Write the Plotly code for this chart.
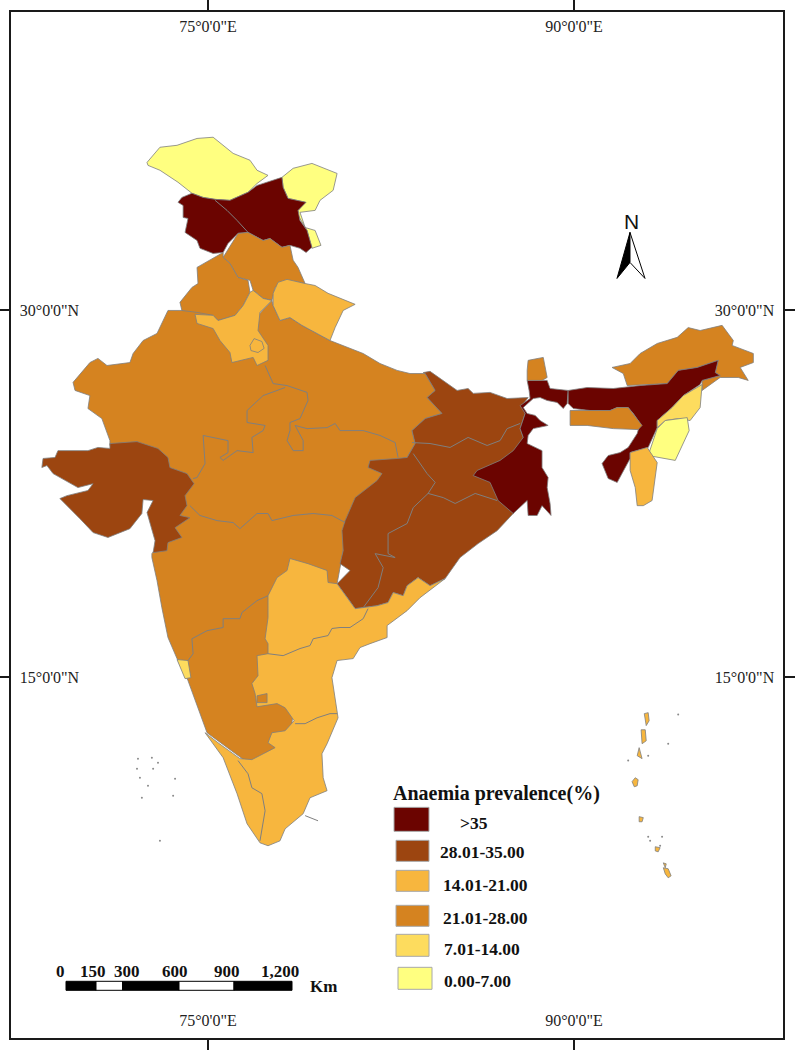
import plotly.graph_objects as go

# ---- legend classes ----
CLASS_LABELS = [">35", "28.01-35.00", "14.01-21.00", "21.01-28.00", "7.01-14.00", "0.00-7.00"]
CLASS_COLOURS = ["#6B0400", "#9C4510", "#F7B63E", "#D58320", "#FDDC5E", "#FFFF80"]
LEGEND_TITLE = "Anaemia prevalence(%)"

# ---- graticule ----
LON_TICKS = [75, 90]
LON_TEXT = ["75°0'0\"E", "90°0'0\"E"]
LAT_TICKS = [15, 30]
LAT_TEXT = ["15°0'0\"N", "30°0'0\"N"]
SCALE_KM = ["0", "150", "300", "600", "900", "1,200"]

# ---- region outlines, (lon, lat) ----
NORTH_WEST = [(72.50,36.05),(73.03,36.67),(73.73,36.75),(74.55,37.03),(75.21,37.08),(76.03,36.42),(76.72,36.14),(77.01,35.73),(77.46,35.52),(77.01,35.19),(76.64,34.83),(75.90,34.50),(75.29,34.54),(74.80,34.62),(74.34,34.79),(73.77,35.24),(73.03,35.73),(72.54,35.93)]
NORTH_EAST = [(78.03,35.44),(78.49,35.81),(79.26,36.01),(80.29,35.60),(80.13,34.91),(79.59,34.50),(79.39,34.09),(78.77,34.01),(78.98,33.39),(79.39,33.27),(79.63,32.66),(79.26,32.54),(79.06,33.27),(78.69,33.89),(78.69,34.09),(78.98,34.42),(78.28,34.58),(78.08,35.03)]
KASHMIR = [(78.03,35.44),(78.08,35.03),(78.28,34.58),(79.02,34.42),(78.69,34.09),(78.77,33.68),(79.06,33.27),(79.26,32.58),(79.02,32.37),(78.77,32.54),(78.36,32.66),(78.03,32.58),(77.54,32.94),(77.26,32.86),(76.64,33.19),(76.23,33.15),(75.82,32.74),(75.62,32.37),(75.21,32.33),(74.67,32.54),(74.55,32.86),(74.06,33.19),(74.18,33.76),(73.98,33.80),(73.98,34.29),(73.77,34.42),(73.93,34.62),(74.34,34.79),(74.80,34.62),(75.29,34.54),(75.90,34.50),(76.64,34.83),(77.01,35.11)]
HIMACHAL = [(76.64,33.19),(76.23,33.15),(75.62,32.17),(75.90,31.92),(76.23,31.35),(76.72,31.23),(76.85,30.82),(77.26,30.49),(77.62,30.41),(77.75,30.94),(78.24,31.23),(78.98,31.10),(78.69,31.76),(78.49,32.05),(78.36,32.66),(78.03,32.58),(77.54,32.94),(77.26,32.86)]
PUNJAB = [(75.62,32.37),(75.21,32.13),(74.55,31.76),(74.59,31.10),(74.34,30.94),(73.85,30.33),(73.93,30.00),(74.55,29.92),(75.21,29.80),(75.41,29.59),(76.11,29.80),(76.44,30.20),(76.72,30.74),(76.64,31.23),(76.23,31.35),(75.90,31.92),(75.62,32.17)]
UTTARAKHAND = [(77.87,31.15),(78.24,31.27),(78.98,31.10),(79.39,31.02),(79.92,30.70),(81.03,30.25),(80.54,30.00),(80.21,29.30),(80.00,28.77),(79.47,29.06),(78.85,29.39),(78.36,29.71),(77.95,29.59),(77.67,30.20),(77.67,30.70)]
HARYANA = [(76.85,30.82),(77.26,30.49),(77.62,30.41),(77.13,29.92),(77.05,29.18),(77.46,28.57),(77.46,27.96),(77.01,27.75),(76.85,28.08),(75.98,27.87),(75.90,28.28),(75.49,28.77),(75.21,29.26),(74.55,29.47),(74.47,29.84),(75.21,29.80),(75.41,29.59),(76.11,29.80),(76.44,30.20),(76.72,30.74)]
DELHI = [(76.72,28.57),(76.89,28.85),(77.21,28.73),(77.30,28.45),(77.05,28.28),(76.76,28.36)]
CENTRAL_WEST = [(73.36,30.00),(73.85,30.00),(77.13,29.88),(77.62,30.41),(77.67,30.20),(77.95,29.59),(78.36,29.71),(78.85,29.39),(80.00,28.77),(81.36,28.24),(82.05,27.83),(82.75,27.55),(83.28,27.42),(83.90,27.42),(84.31,26.73),(83.98,26.44),(84.59,25.79),(83.90,25.58),(83.36,25.09),(83.49,24.56),(83.16,23.99),(82.75,23.91),(80.62,21.33),(80.54,20.18),(80.29,18.83),(78.77,16.09),(78.36,12.41),(76.80,11.39),(74.96,12.74),(74.67,13.52),(74.18,14.87),(73.73,15.77),(73.36,16.63),(73.11,17.85),(72.91,18.96),(72.70,19.90),(72.70,20.06),(73.44,21.00),(74.06,23.05),(72.62,24.27),(70.98,24.48),(70.98,24.68),(70.65,25.58),(70.08,25.99),(70.16,26.52),(69.55,26.73),(69.47,27.06),(70.16,27.87),(70.49,28.04),(70.86,27.75),(71.80,27.87),(71.93,28.24),(72.34,28.77),(72.91,29.06)]
EAST_CENTRAL = [(82.75,23.95),(81.64,23.87),(81.56,23.58),(82.13,23.33),(81.93,23.05),(81.03,22.35),(80.62,21.41),(80.49,21.00),(80.54,20.18),(80.41,19.65),(80.82,19.37),(80.29,18.83),(80.74,18.22),(81.03,17.81),(81.93,17.93),(82.38,18.06),(82.59,18.47),(83.00,18.34),(83.16,18.75),(83.61,19.08),(84.10,18.75),(84.72,19.04),(85.33,19.90),(86.07,20.47),(86.85,21.00),(87.51,21.70),(87.38,23.05),(87.92,24.81),(87.79,25.17),(88.00,25.79),(87.87,26.11),(88.12,26.44),(87.26,26.40),(86.56,26.65),(85.87,26.61),(85.66,26.81),(85.21,26.73),(84.64,27.14),(84.10,27.51),(83.82,27.46),(83.90,27.42),(84.31,26.73),(83.98,26.44),(84.59,25.79),(83.90,25.58),(83.36,25.09),(83.49,24.56),(83.16,23.99)]
WEST_BENGAL = [(88.08,27.14),(88.90,27.14),(89.02,26.81),(89.76,26.73),(89.72,26.20),(89.56,25.99),(89.31,26.24),(88.90,26.32),(88.61,26.44),(88.33,26.40),(87.92,26.03),(88.08,25.79),(88.41,25.71),(88.61,25.50),(88.94,25.30),(88.33,25.17),(88.12,24.89),(88.08,24.56),(88.69,24.27),(88.69,23.58),(88.94,23.17),(88.90,22.76),(89.02,22.11),(89.06,21.62),(88.69,22.02),(88.49,21.62),(88.12,21.62),(88.08,22.23),(87.51,21.70),(86.89,22.23),(86.56,22.97),(85.87,23.25),(86.03,23.46),(86.97,23.87),(87.51,24.27),(87.92,24.81),(87.79,25.17),(88.00,25.79),(87.79,26.11),(88.20,26.40),(88.16,26.73)]
SIKKIM = [(88.12,27.96),(88.74,28.08),(88.90,27.26),(88.69,27.14),(88.08,27.14),(88.08,27.55)]
ASSAM = [(89.76,26.73),(90.54,26.85),(91.61,26.81),(92.71,26.93),(93.82,27.01),(94.27,27.55),(95.05,27.67),(95.91,27.96),(95.79,27.46),(95.99,27.34),(95.25,27.14),(95.17,26.97),(94.48,26.52),(94.02,26.03),(93.41,25.50),(93.41,25.21),(93.04,24.40),(92.30,24.19),(92.30,23.95),(92.02,23.46),(91.77,22.97),(91.40,23.13),(91.15,23.74),(91.40,24.07),(91.89,24.19),(92.22,24.40),(92.59,24.97),(92.71,25.38),(92.43,25.79),(92.22,26.03),(91.77,26.03),(91.48,25.91),(90.66,25.91),(89.97,25.99),(89.76,26.20)]
ARUNACHAL = [(91.56,27.67),(92.30,27.83),(92.71,28.24),(93.41,28.65),(94.23,28.90),(94.68,29.30),(95.17,29.18),(96.07,29.39),(96.53,28.77),(96.48,28.57),(97.35,28.24),(97.35,27.87),(96.81,27.67),(97.14,27.14),(96.73,27.26),(95.99,27.26),(95.25,26.73),(95.25,27.14),(95.99,27.34),(95.79,27.46),(95.91,27.96),(95.05,27.67),(94.27,27.55),(93.82,27.01),(92.18,26.93),(92.02,27.42)]
MEGHALAYA = [(89.84,25.91),(90.66,25.91),(91.48,25.91),(91.77,26.03),(92.22,26.03),(92.79,25.30),(92.63,25.13),(91.61,25.17),(90.54,25.30),(89.84,25.30)]
NAGALAND = [(95.25,26.97),(95.17,26.03),(94.76,25.50),(94.27,25.58),(93.74,25.50),(93.41,25.21),(93.41,25.50),(94.02,26.03),(94.48,26.52)]
MANIPUR = [(93.74,25.50),(94.27,25.58),(94.64,25.62),(94.72,25.09),(94.15,23.87),(93.04,24.07),(93.41,25.17)]
MIZORAM = [(92.30,24.19),(93.00,24.40),(93.41,23.78),(93.20,22.23),(92.84,22.02),(92.59,22.02),(92.51,22.76),(92.30,23.46)]
GUJARAT = [(70.98,24.56),(72.09,24.64),(72.95,24.36),(73.36,23.99),(73.44,23.58),(74.14,23.33),(74.43,22.92),(74.06,22.43),(74.14,22.02),(73.85,21.62),(74.26,21.53),(73.65,21.12),(73.93,20.72),(73.36,20.51),(73.32,20.18),(72.75,20.10),(72.83,20.59),(72.62,21.33),(72.50,21.74),(72.75,22.23),(72.34,22.27),(72.29,21.70),(71.80,21.08),(70.90,20.72),(70.29,20.92),(69.75,21.49),(68.93,22.31),(69.22,22.43),(70.08,22.64),(70.29,22.92),(69.67,22.76),(68.65,23.33),(68.40,23.66),(68.19,23.58),(68.24,23.95),(68.73,23.99),(68.85,24.27),(70.08,24.27),(70.49,24.40),(70.98,24.36)]
SOUTH = [(78.36,19.86),(79.10,19.65),(79.88,19.37),(79.92,18.88),(80.29,18.83),(80.74,18.22),(81.03,17.81),(81.93,17.93),(82.38,18.06),(82.59,18.47),(83.00,18.34),(83.16,18.75),(83.61,19.08),(84.10,18.75),(84.72,19.04),(83.69,18.26),(83.16,17.73),(82.34,17.12),(82.34,16.63),(81.64,16.38),(81.23,16.22),(80.95,15.77),(80.29,15.69),(80.08,14.99),(80.21,14.05),(80.33,13.35),(79.88,12.29),(79.67,11.88),(79.72,10.90),(79.88,10.37),(79.18,10.08),(78.90,9.43),(78.16,8.81),(77.95,8.32),(77.46,8.12),(77.13,8.24),(76.60,9.02),(76.19,10.25),(75.62,11.72),(74.88,12.74),(75.41,12.33),(76.31,11.68),(76.80,11.64),(77.75,12.13),(77.46,12.33),(77.62,12.74),(78.16,12.82),(78.53,13.23),(78.16,13.76),(77.83,13.93),(77.01,13.80),(76.93,14.34),(76.80,14.75),(77.05,15.07),(77.01,15.89),(77.46,15.97),(77.46,16.38),(77.34,16.58),(77.46,17.44),(77.46,18.34),(77.83,19.08),(78.24,19.37)]
BANGALORE = [(77.01,14.25),(77.42,14.34),(77.42,13.97),(77.01,13.97)]
GOA = [(73.73,15.73),(74.18,15.69),(74.30,14.99),(74.06,14.95)]
ANDAMAN_1 = [(92.88,13.52),(93.04,13.56),(93.08,13.23),(92.96,13.03)]
ANDAMAN_2 = [(92.75,12.86),(92.92,12.86),(92.96,12.41),(92.79,12.29)]
ANDAMAN_3 = [(92.67,12.13),(92.79,11.68),(92.59,11.80)]
ANDAMAN_4 = [(92.51,10.90),(92.63,10.82),(92.59,10.57),(92.47,10.53),(92.38,10.74)]
NICOBAR_1 = [(92.67,9.31),(92.84,9.27),(92.79,9.10),(92.67,9.10)]
NICOBAR_2 = [(93.33,8.08),(93.53,8.04),(93.45,7.87),(93.33,7.91)]
NICOBAR_3 = [(93.66,7.42),(93.78,7.38),(93.74,7.22)]
NICOBAR_4 = [(93.66,7.22),(93.86,7.18),(93.98,6.89),(93.86,6.81),(93.74,6.97)]

# ---- interior borders ----
BORDER_KASHMIR = [(75.29,34.50),(75.78,34.09),(76.19,33.68),(76.64,33.19)]
BORDER_UP_MP = [(77.34,27.75),(77.67,27.01),(78.24,26.93),(79.06,26.65),(79.10,26.32),(78.77,25.58),(78.36,25.42),(78.36,25.09),(78.24,24.68),(78.49,24.27),(78.90,24.27),(78.90,24.68),(78.57,25.30),(79.06,25.17),(79.88,25.21),(80.21,25.38),(80.41,25.09),(81.36,25.09),(82.05,24.89),(82.67,24.60),(82.79,23.99)]
BORDER_RAJ_MP = [(78.16,26.85),(77.26,26.52),(76.60,25.91),(76.60,25.42),(77.34,25.30),(77.26,25.09),(76.80,24.81),(76.85,24.19),(76.19,24.27),(75.62,23.87),(75.49,23.99),(75.82,24.19),(75.82,24.68),(75.21,24.81),(74.80,24.89),(74.88,23.74),(74.55,23.17),(74.39,23.13)]
BORDER_MP_MH = [(74.26,22.02),(74.67,21.62),(75.37,21.41),(76.03,21.33),(76.31,21.08),(77.01,21.70),(77.46,21.70),(77.62,21.41),(78.49,21.62),(79.31,21.70),(80.08,21.62),(80.62,21.33)]
BORDER_MH_KA = [(77.46,18.34),(77.01,18.14),(76.39,17.65),(76.31,17.40),(75.62,17.40),(75.62,17.04),(74.96,16.91),(74.34,16.58),(74.39,15.97),(74.18,15.69)]
BORDER_BR_JH = [(83.36,24.60),(84.10,24.56),(84.92,24.40),(85.66,24.81),(86.44,24.48),(86.97,24.68),(87.26,25.17),(87.79,25.38)]
BORDER_CG_OD = [(83.41,24.15),(83.98,23.33),(84.31,22.97),(84.02,22.52),(83.41,21.94),(83.16,21.29),(82.38,20.88),(82.38,20.06),(82.67,19.90),(81.85,20.06),(82.18,19.49),(81.97,18.67),(81.36,17.85)]
BORDER_JH_OD = [(84.02,22.52),(84.64,22.35),(85.13,22.11),(85.95,22.52),(86.85,22.23)]
BORDER_TS_AP = [(77.46,15.97),(78.08,15.89),(78.77,16.18),(79.18,16.30),(79.31,16.58),(79.92,16.71),(80.08,17.00),(80.41,17.04),(80.82,17.04),(81.36,17.40),(81.56,17.81)]
BORDER_AP_TN = [(78.57,13.11),(78.98,13.11),(79.47,13.35),(80.00,13.52),(80.29,13.52)]
BORDER_KL_TN = [(76.23,11.60),(76.64,11.06),(76.80,10.49),(77.21,10.25),(77.34,9.55),(77.13,8.32)]
BORDER_SPIT = [(78.98,9.35),(79.51,9.14)]

# small islets
ISLET_LON = [93.04,94.27,93.86,92.22,93.12,93.53,93.61,93.04,72.13,72.70,72.95,72.75,72.09,72.21,72.54,73.65,72.29,73.57,73.03]
ISLET_LAT = [11.80,13.48,12.29,11.60,8.32,8.12,8.49,8.49,11.68,11.72,11.51,11.27,11.27,10.90,10.57,10.86,10.08,10.16,8.32]

# ---- draw order and class of each region ----
REGIONS = [
    (CENTRAL_WEST, 3), (EAST_CENTRAL, 1), (SOUTH, 2), (BANGALORE, 3), (GOA, 4),
    (NORTH_WEST, 5), (NORTH_EAST, 5), (KASHMIR, 0), (HIMACHAL, 3), (PUNJAB, 3),
    (HARYANA, 2), (DELHI, 2), (UTTARAKHAND, 2), (GUJARAT, 1), (WEST_BENGAL, 0),
    (SIKKIM, 3), (ARUNACHAL, 3), (ASSAM, 0), (MEGHALAYA, 3), (NAGALAND, 4),
    (MANIPUR, 5), (MIZORAM, 2), (ANDAMAN_1, 2), (ANDAMAN_2, 2), (ANDAMAN_3, 2),
    (ANDAMAN_4, 2), (NICOBAR_1, 2), (NICOBAR_2, 2), (NICOBAR_3, 2), (NICOBAR_4, 2),
]
BORDERS = [BORDER_KASHMIR, BORDER_UP_MP, BORDER_RAJ_MP, BORDER_MP_MH, BORDER_MH_KA, BORDER_BR_JH,
           BORDER_CG_OD, BORDER_JH_OD, BORDER_TS_AP, BORDER_AP_TN, BORDER_KL_TN, BORDER_SPIT]

# ---- page geometry ----
W, H = 795, 1050
L, R, T, B = 11, 783, 11.5, 1037.7
LON_RANGE = [75 + (L - 208) / 24.4, 75 + (R - 208) / 24.4]
LAT_RANGE = [30 - (B - 310) / 24.47, 30 + (310 - T) / 24.47]
GREY = "#7f7f7f"
INK = "#1a1a1a"
SERIF = "Liberation Serif"


def px(x):
    return (x - L) / (R - L)


def py(y):
    return (B - y) / (B - T)


def rect(x0, y0, x1, y1, fill, line="rgba(0,0,0,0)", width=1):
    return dict(type="rect", xref="paper", yref="paper", x0=px(x0), x1=px(x1), y0=py(y0), y1=py(y1),
                fillcolor=fill, line=dict(color=line, width=width), layer="above")


def poly(points, fill, line, width=1):
    d = "M " + " L ".join(f"{px(a):.5f},{py(b):.5f}" for a, b in points) + " Z"
    return dict(type="path", xref="paper", yref="paper", path=d, fillcolor=fill,
                line=dict(color=line, width=width), layer="above")


def label(x, y, text, size=17.5, bold=True, family=SERIF, anchor="left"):
    t = f"<b>{text}</b>" if bold else text
    return dict(xref="paper", yref="paper", x=px(x), y=py(y), text=t, showarrow=False, xanchor=anchor,
                yanchor="middle", font=dict(family=family, size=size, color="#111"))


fig = go.Figure()
for outline, cls in REGIONS:
    fig.add_trace(go.Scatter(x=[p[0] for p in outline] + [outline[0][0]], y=[p[1] for p in outline] + [outline[0][1]],
                             mode="lines", fill="toself", fillcolor=CLASS_COLOURS[cls],
                             line=dict(color=GREY, width=0.8), hoverinfo="skip", showlegend=False))
for border in BORDERS:
    fig.add_trace(go.Scatter(x=[p[0] for p in border], y=[p[1] for p in border], mode="lines",
                             line=dict(color=GREY, width=1), hoverinfo="skip", showlegend=False))
fig.add_trace(go.Scatter(x=ISLET_LON, y=ISLET_LAT, mode="markers", marker=dict(color="#8a8a8a", size=2),
                         hoverinfo="skip", showlegend=False))
# carries the top and right graticule axes
fig.add_trace(go.Scatter(x=LON_TICKS, y=LAT_TICKS, xaxis="x2", yaxis="y2", mode="markers",
                         marker=dict(opacity=0), hoverinfo="skip", showlegend=False))

shapes, notes = [], []
# legend
BOXES = [(394, 807, 429, 831), (396, 840, 429, 861), (396, 870, 429, 891),
         (396, 905, 429, 926), (396, 934, 429, 956), (398, 967, 432, 989)]
TEXT_POS = [(458, 823), (438, 852), (441, 885), (441, 918), (442, 949), (442, 981)]
notes.append(label(391, 793, LEGEND_TITLE, size=20))
for box, cls_label, colour, pos in zip(BOXES, CLASS_LABELS, CLASS_COLOURS, TEXT_POS):
    shapes.append(rect(*box, colour, line="#a8a8a8"))
    notes.append(label(pos[0], pos[1], cls_label))
# scale bar
for x0, x1, colour in [(66, 96, "black"), (96, 122.5, "white"), (122.5, 179, "black"),
                       (179, 234, "white"), (234, 292, "black")]:
    shapes.append(rect(x0, 981, x1, 990, colour, line="black"))
for x, text in zip([60, 93, 127, 175, 227, 280], SCALE_KM):
    notes.append(label(x, 971.5, text, size=17, anchor="center"))
notes.append(label(308, 986, "Km", size=17))
# north arrow
shapes.append(poly([(617, 278), (630, 232), (630, 262)], "black", "black"))
shapes.append(poly([(630, 232), (645, 278), (630, 262)], "white", "black"))
notes.append(label(631, 221, "N", size=21, bold=False, family="Liberation Sans", anchor="center"))

axis = dict(showgrid=False, zeroline=False, showline=True, linecolor=INK, linewidth=2, ticks="outside",
            ticklen=10, tickwidth=2, tickcolor=INK, ticklabelposition="inside", ticklabelstandoff=9,
            tickfont=dict(family=SERIF, size=16, color="#222"), fixedrange=True)
fig.update_layout(
    width=W, height=H, autosize=False, paper_bgcolor="white", plot_bgcolor="white", showlegend=False,
    margin=dict(l=L, r=W - R, t=T, b=H - B, pad=0, autoexpand=False), shapes=shapes, annotations=notes,
    xaxis=dict(axis, range=LON_RANGE, tickvals=LON_TICKS, ticktext=LON_TEXT, side="bottom"),
    yaxis=dict(axis, range=LAT_RANGE, tickvals=LAT_TICKS, ticktext=LAT_TEXT, side="left"),
    xaxis2=dict(axis, range=LON_RANGE, tickvals=LON_TICKS, ticktext=LON_TEXT, side="top", overlaying="x", anchor="y2"),
    yaxis2=dict(axis, range=LAT_RANGE, tickvals=LAT_TICKS, ticktext=LAT_TEXT, side="right", overlaying="y", anchor="x2"),
)
fig.write_html("out.html", config=dict(displayModeBar=False), post_script="document.body.style.margin='0';")
